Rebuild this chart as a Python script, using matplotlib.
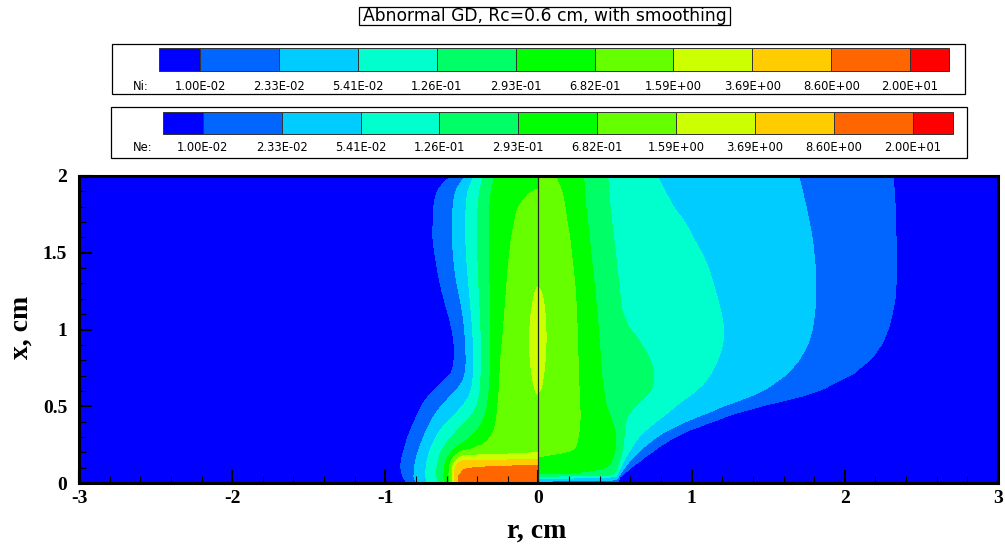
import numpy as np
import matplotlib
matplotlib.use("Agg")
import matplotlib.pyplot as plt
from matplotlib.patches import Rectangle

# ---------------------------------------------------------------------------
# Contour levels (shared by Ni and Ne legends) and the Tecplot-style palette
# ---------------------------------------------------------------------------
levels = [1.00e-2, 2.33e-2, 5.41e-2, 1.26e-1, 2.93e-1, 6.82e-1,
          1.59e0, 3.69e0, 8.60e0, 2.00e1]
level_labels = ["1.00E-02", "2.33E-02", "5.41E-02", "1.26E-01", "2.93E-01",
                "6.82E-01", "1.59E+00", "3.69E+00", "8.60E+00", "2.00E+01"]
band_colors = ["#0000FF", "#0066FF", "#00CCFF", "#00FFCC", "#00FF66",
               "#00FF00", "#66FF00", "#CCFF00", "#FFCC00", "#FF6600",
               "#FF0000"]

# ---------------------------------------------------------------------------
# Radial profiles, sampled on horizontal rows (x in cm).
# *_axis : density on the symmetry axis, as a position on the legend scale
#          (k means levels[k]; between k and k+1 means between those levels)
# *_edge[k] : radius (cm) at which the density equals levels[k]
# ---------------------------------------------------------------------------
x_rows = [0.00, 0.02, 0.04, 0.06, 0.08, 0.10, 0.12, 0.15, 0.18, 0.20, 0.25,
          0.30, 0.35, 0.40, 0.45, 0.50, 0.55, 0.60, 0.70, 0.80, 0.90, 1.00,
          1.10, 1.20, 1.30, 1.40, 1.60, 1.80, 1.90, 1.95, 2.00]
nan = np.nan

# ions (left half, r < 0)
ni_axis = [8.6, 8.6, 8.6, 8.6, 8.5, 8.4, 8.05, 7.05, 6.05, 5.8, 5.6,
           5.6, 5.65, 5.7, 5.8, 5.9, 6.02, 6.08, 6.15, 6.2, 6.22, 6.22,
           6.18, 6.12, 6.03, 5.92, 5.65, 5.35, 5.1, 4.9, 4.7]
ni_edge = [
    [0.845, 0.87, 0.882, 0.89, 0.893, 0.895, 0.895, 0.887, 0.88, 0.874, 0.86,
     0.845, 0.825, 0.802, 0.78, 0.758, 0.725, 0.68, 0.56, 0.54, 0.54, 0.555,
     0.58, 0.61, 0.635, 0.655, 0.686, 0.68, 0.66, 0.62, 0.53],
    [0.795, 0.805, 0.813, 0.813, 0.812, 0.81, 0.808, 0.80, 0.792, 0.786, 0.768,
     0.747, 0.728, 0.704, 0.675, 0.638, 0.59, 0.54, 0.475, 0.468, 0.475, 0.478,
     0.49, 0.508, 0.53, 0.547, 0.562, 0.556, 0.54, 0.52, 0.475],
    [0.725, 0.732, 0.736, 0.736, 0.735, 0.734, 0.732, 0.727, 0.72, 0.715, 0.695,
     0.671, 0.64, 0.595, 0.54, 0.49, 0.455, 0.435, 0.425, 0.42, 0.425, 0.431,
     0.44, 0.447, 0.455, 0.464, 0.475, 0.473, 0.464, 0.447, 0.42],
    [0.649, 0.66, 0.664, 0.664, 0.663, 0.662, 0.66, 0.653, 0.645, 0.638, 0.61,
     0.573, 0.525, 0.475, 0.43, 0.40, 0.39, 0.381, 0.377, 0.373, 0.375, 0.377,
     0.38, 0.386, 0.39, 0.394, 0.399, 0.394, 0.383, 0.373, 0.36],
    [0.606, 0.613, 0.617, 0.617, 0.615, 0.614, 0.612, 0.598, 0.58, 0.562, 0.50,
     0.431, 0.39, 0.359, 0.343, 0.333, 0.327, 0.322, 0.315, 0.312, 0.312, 0.312,
     0.314, 0.316, 0.32, 0.322, 0.329, 0.327, 0.318, 0.312, 0.30],
    [0.573, 0.58, 0.584, 0.584, 0.582, 0.58, 0.577, 0.565, 0.535, 0.50, 0.40,
     0.33, 0.30, 0.29, 0.284, 0.279, 0.273, 0.268, 0.262, 0.257, 0.246, 0.235,
     0.227, 0.218, 0.21, 0.203, 0.181, 0.142, 0.061, nan, nan],
    [0.555, 0.56, 0.563, 0.563, 0.562, 0.56, 0.558, 0.548, 0.50, nan, nan,
     nan, nan, nan, nan, nan, 0.01, 0.025, 0.045, 0.058, 0.061, 0.061,
     0.054, 0.039, 0.015, nan, nan, nan, nan, nan, nan],
    [0.543, 0.548, 0.55, 0.55, 0.55, 0.548, 0.545, 0.50] + [nan] * 23,
    [0.52, 0.52, 0.52, 0.52, 0.52, 0.52, 0.50] + [nan] * 24,
    [nan] * 31,
]

# electrons (right half, r > 0)
ne_axis = [0.3, 1.5, 2.8, 4.1, 4.4, 4.6, 4.7, 4.85, 5.1, 5.2, 5.4,
           5.6, 5.7, 5.8, 5.9, 5.95, 6.01, 6.05, 6.12, 6.18, 6.22, 6.22,
           6.18, 6.1, 6.02, 5.93, 5.8, 5.65, 5.55, 5.45, 5.3]
ne_edge = [
    [0.51, 0.52, 0.53, 0.545, 0.56, 0.58, 0.60, 0.64, 0.68, 0.71, 0.78,
     0.86, 0.97, 1.11, 1.25, 1.455, 1.70, 1.86, 2.06, 2.18, 2.25, 2.29,
     2.315, 2.335, 2.34, 2.345, 2.34, 2.335, 2.33, 2.325, 2.32],
    [nan, 0.51, 0.525, 0.535, 0.55, 0.565, 0.585, 0.61, 0.645, 0.665, 0.72,
     0.785, 0.88, 0.99, 1.125, 1.25, 1.375, 1.48, 1.62, 1.705, 1.76, 1.79,
     1.804, 1.812, 1.812, 1.81, 1.79, 1.75, 1.727, 1.715, 1.70],
    [nan, nan, 0.505, 0.515, 0.525, 0.535, 0.545, 0.56, 0.575, 0.59, 0.62,
     0.655, 0.715, 0.775, 0.84, 0.89, 0.95, 1.03, 1.12, 1.17, 1.205, 1.212,
     1.195, 1.17, 1.14, 1.11, 1.005, 0.87, 0.815, 0.79, 0.765],
    [nan, nan, nan, 0.495, 0.51, 0.52, 0.525, 0.53, 0.54, 0.545, 0.548,
     0.55, 0.553, 0.556, 0.585, 0.623, 0.69, 0.743, 0.758, 0.73, 0.666, 0.583,
     0.536, 0.525, 0.514, 0.503, 0.48, 0.46, 0.454, 0.45, 0.445],
    [nan, nan, nan, 0.44, 0.47, 0.48, 0.488, 0.497, 0.508, 0.514, 0.52,
     0.525, 0.51, 0.492, 0.465, 0.438, 0.43, 0.42, 0.405, 0.40, 0.394, 0.388,
     0.383, 0.372, 0.362, 0.35, 0.33, 0.307, 0.30, 0.298, 0.295],
    [nan] * 8 + [0.22, 0.242, 0.255, 0.264, 0.27, 0.275, 0.275, 0.275, 0.272,
                 0.27, 0.264, 0.262, 0.259, 0.256, 0.253, 0.248, 0.242, 0.232,
                 0.21, 0.178, 0.16, 0.14, 0.11],
    [nan] * 16 + [0.005, 0.02, 0.035, 0.045, 0.05, 0.05, 0.045, 0.035, 0.01]
    + [nan] * 6,
    [nan] * 31,
    [nan] * 31,
    [nan] * 31,
]


def build_field(axis_vals, edges, r, x):
    """Turn per-row radial profiles into a field on the (x, r) grid."""
    rows = []
    for i in range(len(x_rows)):
        pr, ps = [0.0], [axis_vals[i]]
        for k in range(len(levels) - 1, -1, -1):
            rk = edges[k][i]
            if np.isfinite(rk):
                pr.append(rk)
                ps.append(float(k))
        pr += [pr[-1] + 0.25, 3.5]
        ps += [-1.0, -3.0]
        rows.append(np.interp(r, pr, ps))
    rows = np.array(rows)
    xr = np.asarray(x_rows)
    j = np.clip(np.searchsorted(xr, x, side="right") - 1, 0, len(xr) - 2)
    w = ((x - xr[j]) / (xr[j + 1] - xr[j]))[:, None]
    return rows[j] * (1 - w) + rows[j + 1] * w


def gauss_smooth(field, sig_r, sig_x, step):
    """Separable Gaussian smoothing (mirror at the axis, edge elsewhere)."""
    out = field
    for axis, sig, mode_lo in ((1, sig_r, "reflect"), (0, sig_x, "edge")):
        n = int(np.ceil(3 * sig / step))
        t = np.arange(-n, n + 1) * step
        ker = np.exp(-0.5 * (t / sig) ** 2)
        ker /= ker.sum()
        pad = [(0, 0), (0, 0)]
        pad[axis] = (n, 0)
        tmp = np.pad(out, pad, mode=mode_lo)
        pad[axis] = (0, n)
        tmp = np.pad(tmp, pad, mode="edge")
        out = np.apply_along_axis(lambda v: np.convolve(v, ker, mode="valid"),
                                  axis, tmp)
    return out


step = 1.0 / 300.0
r_f = np.arange(0.0, 3.0 + step / 2, step)
x_f = np.arange(0.0, 2.0 + step / 2, step)


def smooth_field(raw):
    sm = gauss_smooth(raw, 0.018, 0.03, step)
    # keep the thin layers next to the cathode sharp
    w = np.clip((x_f - 0.05) / 0.1, 0.0, 1.0)[:, None]
    return sm * w + raw * (1 - w)


ni_field = smooth_field(build_field(ni_axis, ni_edge, r_f, x_f))
ne_field = smooth_field(build_field(ne_axis, ne_edge, r_f, x_f))

bounds = [-50.0] + list(range(len(levels))) + [50.0]

# ---------------------------------------------------------------------------
# Figure
# ---------------------------------------------------------------------------
W, H = 1005, 546
fig = plt.figure(figsize=(W / 100, H / 100), dpi=100)
fig.patch.set_facecolor("white")

ax = fig.add_axes([79 / W, (H - 483) / H, (998 - 79) / W, (483 - 176) / H])
ax.contourf(-r_f[::-1], x_f, ni_field[:, ::-1], levels=bounds,
            colors=band_colors)
ax.contourf(r_f, x_f, ne_field, levels=bounds, colors=band_colors)
ax.axvline(0.0, color="#222222", lw=0.9, zorder=3)

ax.set_xlim(-3, 3)
ax.set_ylim(0, 2)
xt = [-3, -2, -1, 0, 1, 2, 3]
yt = [0, 0.5, 1, 1.5, 2]
ax.set_xticks(xt)
ax.set_xticklabels(["-3", "-2", "-1", "0", "1", "2", "3"])
ax.set_xticks(np.arange(-3, 3.001, 0.2), minor=True)
ax.set_yticks(yt)
ax.set_yticklabels(["0", "0.5", "1", "1.5", "2"])
ax.set_yticks(np.arange(0, 2.001, 0.1), minor=True)
ax.tick_params(which="both", direction="in", top=False, right=False,
               colors="black")
ax.tick_params(which="major", length=9.7, width=1.5)
ax.tick_params(which="minor", length=5.2, width=0.8)
ax.tick_params(axis="x", which="major", pad=5)
ax.tick_params(axis="y", which="major", pad=8.5)
for lab in ax.get_xticklabels() + ax.get_yticklabels():
    lab.set_fontfamily("Liberation Serif")
    lab.set_fontweight("bold")
    lab.set_fontsize(14)
for sp in ax.spines.values():
    sp.set_linewidth(2.2)
    sp.set_color("black")
    sp.set_zorder(4)

fig.text(537 / W, 1 - 531 / H, "r, cm", ha="center", va="center",
         family="Liberation Serif", fontweight="bold", fontsize=20)
fig.text(21.5 / W, 1 - 327.5 / H, "x, cm", ha="center", va="center",
         rotation=90, family="Liberation Serif", fontweight="bold",
         fontsize=20)

# ---------------------------------------------------------------------------
# Title box and the two colour legends (pixel coordinates)
# ---------------------------------------------------------------------------
lax = fig.add_axes([0, 0, 1, 1])
lax.set_xlim(0, W)
lax.set_ylim(H, 0)
lax.axis("off")

lax.add_patch(Rectangle((359.3, 7.3), 730 - 359.3, 25 - 7.3, fill=False,
                        ec="black", lw=0.9))
lax.text(544.7, 16.4, "Abnormal GD, Rc=0.6 cm, with smoothing",
         ha="center", va="center", family="DejaVu Sans", fontsize=12.3)


def draw_legend(name, frame, bar_left, bar_right, bar_top, bar_bot, first_edge,
                label_y):
    fx0, fy0, fx1, fy1 = frame
    lax.add_patch(Rectangle((fx0, fy0), fx1 - fx0, fy1 - fy0, fill=False,
                            ec="black", lw=0.9))
    pitch = 78.9
    edges = [bar_left] + [first_edge + pitch * k for k in range(len(levels))] \
        + [bar_right]
    for b in range(len(band_colors)):
        lax.add_patch(Rectangle((edges[b], bar_top), edges[b + 1] - edges[b],
                                bar_bot - bar_top, fc=band_colors[b],
                                ec="#333333", lw=0.7))
    for k, lab in enumerate(level_labels):
        lax.text(edges[k + 1], label_y, lab, ha="center", va="center",
                 family="DejaVu Sans", fontsize=8.3)
    lax.text(133, label_y, name, ha="left", va="center",
             family="DejaVu Sans", fontsize=8.3)


draw_legend("Ni:", (112, 44, 965, 94.3), 159.3, 949.3, 48.3, 70.7, 200.0, 86.3)
draw_legend("Ne:", (110.7, 107.3, 967.3, 157.7), 162.7, 952.7, 111.7, 134.0,
            202.7, 147.3)

fig.savefig("out.png", dpi=100)
